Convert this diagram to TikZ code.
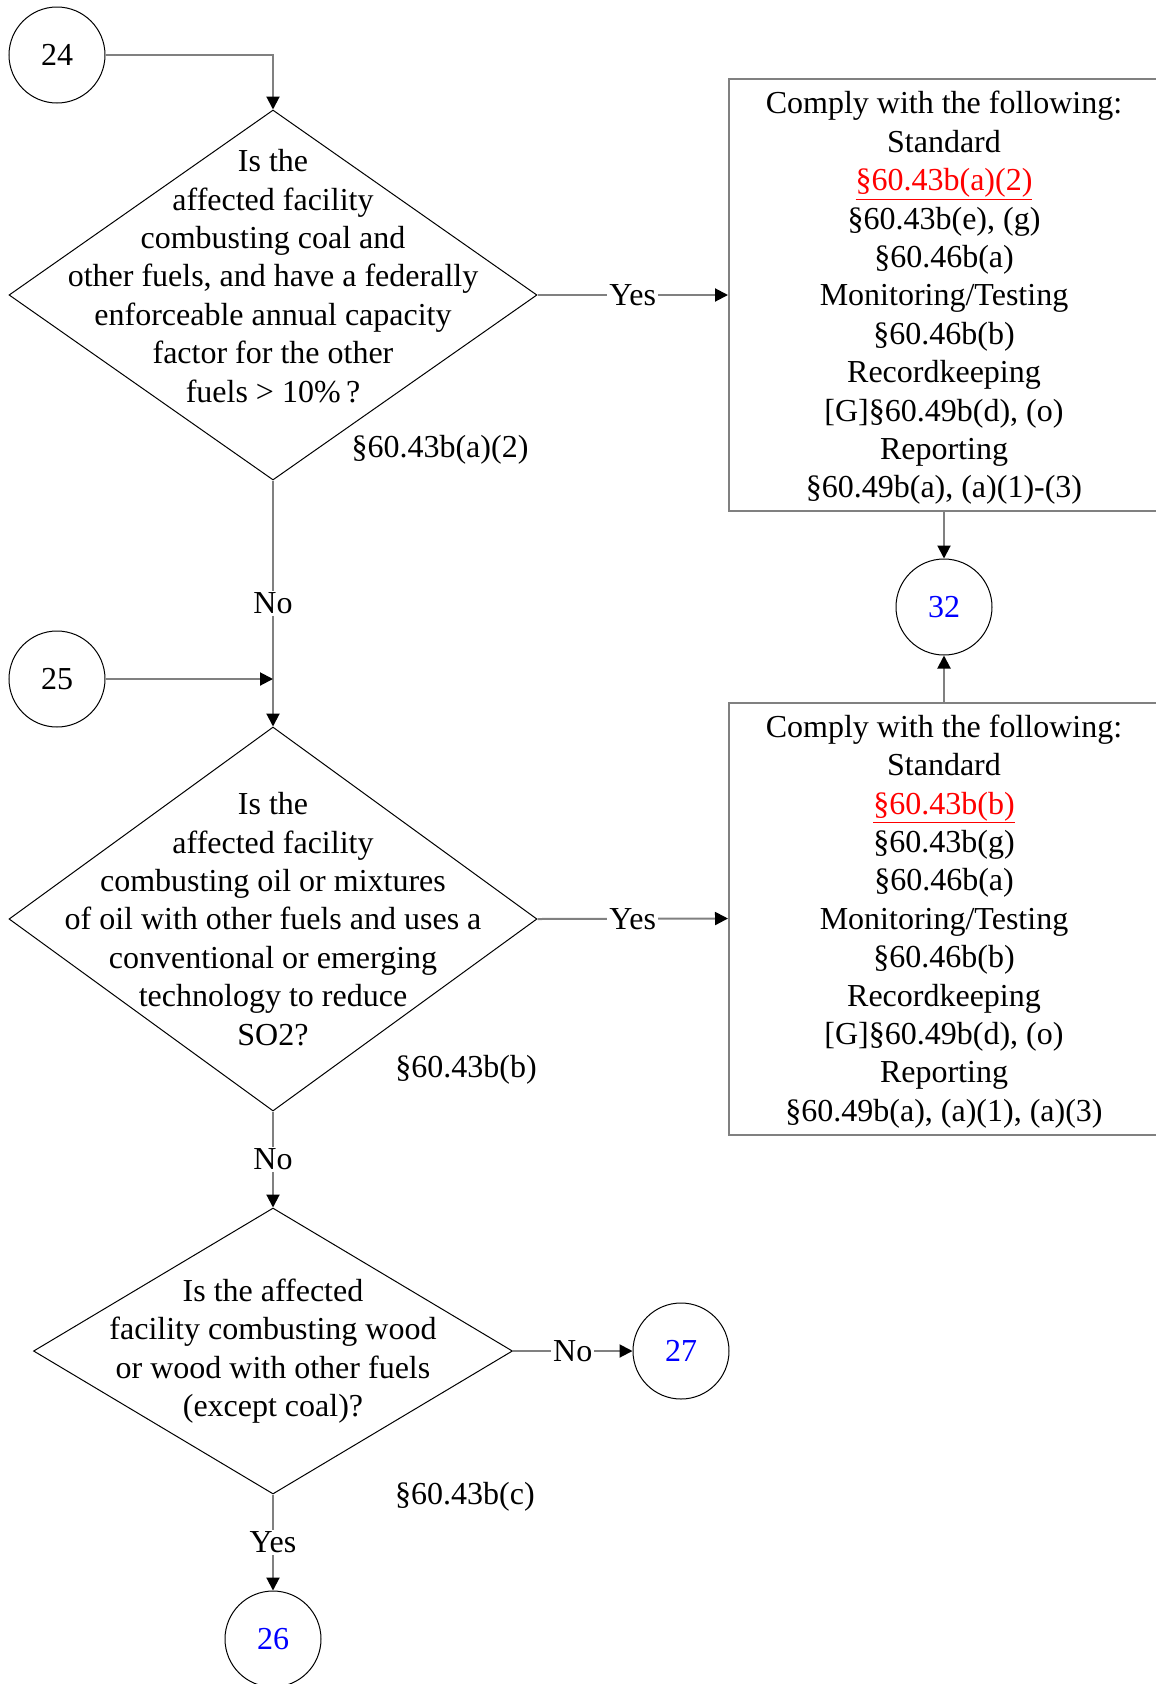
\documentclass[tikz,border=0pt]{standalone}
\usepackage{fontspec}
\setmainfont{Liberation Serif}
\usetikzlibrary{shapes.geometric,arrows.meta}
\definecolor{linegray}{RGB}{128,128,128}
\definecolor{numblue}{RGB}{0,0,255}
\begin{document}
\begin{tikzpicture}[x=1pt,y=-1pt,
  every node/.style={font=\fontsize{32}{38.4}\selectfont},
  conn/.style={draw=linegray, line width=2pt, -{Triangle[length=13pt,width=13pt,color=black,fill=black]}},
  dec/.style={diamond, draw=black, line width=1pt, inner sep=0pt},
  circ/.style={circle, draw=black, line width=1pt, minimum size=96pt, inner sep=0pt},
  cbox/.style={rectangle, draw=linegray, line width=2pt, minimum width=430pt, minimum height=432pt, inner sep=0pt},
  qtext/.style={align=center, inner sep=0pt},
  lbl/.style={fill=white, inner sep=2pt},
  ref/.style={inner sep=0pt}
]
\useasboundingbox (0,0) rectangle (1156,1684);

% connector circles
\node[circ] (c24) at (57,55) {24};
\node[circ] (c25) at (57,679) {25};
\node[circ, text=numblue] (c32) at (944,607) {32};
\node[circ, text=numblue] (c27) at (681,1351) {27};
\node[circ, text=numblue] (c26) at (273,1639) {26};

% decisions
\node[dec, minimum width=528pt, minimum height=370pt] (d1) at (273,295) {};
\node[qtext] (d1t) at (273,276) {Is the\\affected facility\\combusting coal and\\other fuels, and have a federally\\enforceable annual capacity\\factor for the other\\fuels > 10\%\,?};
\node[ref] (r1) at (440,450) {§60.43b(a)(2)};

\node[dec, minimum width=528pt, minimum height=384pt] (d2) at (273,919) {};
\node[qtext] (d2t) at (273,919) {Is the\\affected facility\\combusting oil or mixtures\\of oil with other fuels and uses a\\conventional or emerging\\technology to reduce\\SO2?};
\node[ref] (r2) at (466,1070) {§60.43b(b)};

\node[dec, minimum width=479pt, minimum height=286pt] (d3) at (273,1351) {};
\node[qtext] (d3t) at (273,1351) {Is the affected\\facility combusting wood\\or wood with other fuels\\(except coal)?};
\node[ref] (r3) at (465,1497) {§60.43b(c)};

% boxes
\node[cbox] (b1) at (944,295) {};
\node[qtext] (b1t) at (944,298) {Comply with the following:\\Standard\\{\color{red}\underline{§60.43b(a)(2)}}\\§60.43b(e), (g)\\§60.46b(a)\\Monitoring/Testing\\§60.46b(b)\\Recordkeeping\\{[G]}§60.49b(d), (o)\\Reporting\\§60.49b(a), (a)(1)-(3)};
\node[cbox] (b2) at (944,918.5) {};
\node[qtext] (b2t) at (944,921.5) {Comply with the following:\\Standard\\{\color{red}\underline{§60.43b(b)}}\\§60.43b(g)\\§60.46b(a)\\Monitoring/Testing\\§60.46b(b)\\Recordkeeping\\{[G]}§60.49b(d), (o)\\Reporting\\§60.49b(a), (a)(1), (a)(3)};

% edges
\draw[conn] (c24.east) -| (d1.north);
\draw[conn] (d1.south) -- node[lbl] {No} (d2.north);
\draw[conn] (c25.east) -- (c25.east -| d2.north);
\draw[conn] (d1.east) -- node[lbl] {Yes} (b1.west);
\draw[conn] (d2.east) -- node[lbl] {Yes} (b2.west);
\draw[conn] (b1.south) -- (c32.north);
\draw[conn] (b2.north) -- (c32.south);
\draw[conn] (d2.south) -- node[lbl] {No} (d3.north);
\draw[conn] (d3.east) -- node[lbl] {No} (c27.west);
\draw[conn] (d3.south) -- node[lbl] {Yes} (c26.north);
\end{tikzpicture}
\end{document}
